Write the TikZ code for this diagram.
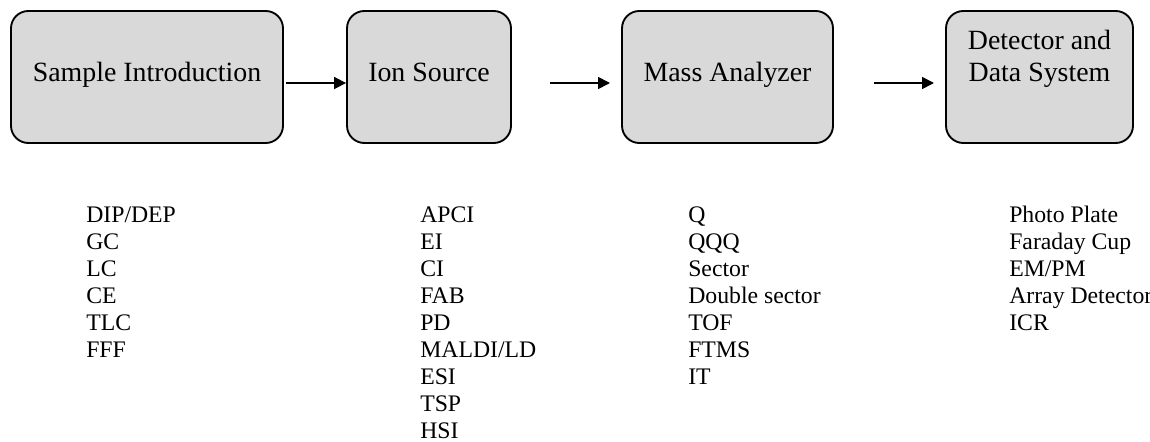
\documentclass[tikz,border=0pt]{standalone}
\usepackage{fontspec}
\setmainfont{Liberation Serif}
\usetikzlibrary{arrows.meta}
\definecolor{boxgray}{HTML}{D9D9D9}
\begin{document}
\begin{tikzpicture}[x=0.75pt,y=-0.75pt,
  stage/.style={draw=black, line width=1.4pt, fill=boxgray, rounded corners=13pt, inner sep=0pt, minimum height=99pt},
  title/.style={anchor=base, font=\fontsize{20.9}{24}\selectfont, inner sep=0pt, align=center},
  item/.style={anchor=base west, font=\fontsize{17.8}{20.3}\selectfont, inner sep=0pt, align=left},
  flow/.style={-{Triangle[length=9pt,width=9pt]}, line width=1.3pt}]
\useasboundingbox (0,0) rectangle (1150,442);
% stages
\node[stage, minimum width=204pt]    (b1) at (147,77) {};
\node[stage, minimum width=123pt]    (b2) at (429,77) {};
\node[stage, minimum width=158.25pt] (b3) at (727.5,77) {};
\node[stage, minimum width=140.25pt] (b4) at (1039.5,77) {};
% titles (multi-line nodes sit on the baseline of their last line)
\node[title] (t1) at (147,82) {Sample Introduction};
\node[title] (t2) at (429,82) {Ion Source};
\node[title] (t3) at (727.5,82) {Mass Analyzer};
\node[title] (t4) at (1039.5,82) {Detector and\\Data System};
% arrows
\coordinate (a1s) at (286,83);
\coordinate (a2s) at (550,83);
\coordinate (a2e) at (610,83);
\coordinate (a3s) at (874,83);
\coordinate (a3e) at (934,83);
\draw[flow] (a1s) -- (b2.west |- a1s);
\draw[flow] (a2s) -- (a2e);
\draw[flow] (a3s) -- (a3e);
% lists (positioned by the baseline of their last line)
\node[item] (l1) at (86,357.5) {DIP/DEP\\GC\\LC\\CE\\TLC\\FFF};
\node[item] (l2) at (420,438.7) {APCI\\EI\\CI\\FAB\\PD\\MALDI/LD\\ESI\\TSP\\HSI};
\node[item] (l3) at (688,384.5) {Q\\QQQ\\Sector\\Double sector\\TOF\\FTMS\\IT};
\node[item] (l4) at (1009,330.3) {Photo Plate\\Faraday Cup\\EM/PM\\Array Detector\\ICR};
\end{tikzpicture}
\end{document}
